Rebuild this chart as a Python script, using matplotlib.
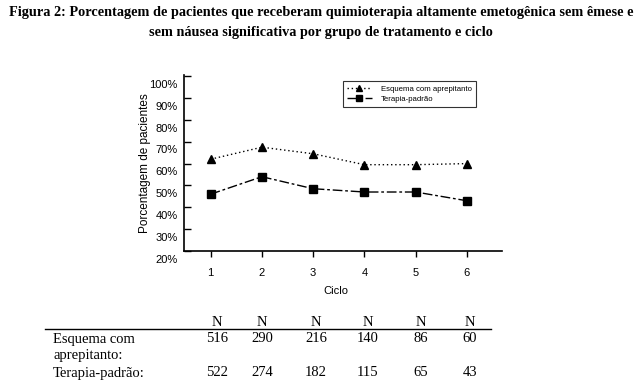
import numpy as np
import matplotlib.pyplot as plt

# Data
ciclos = [1, 2, 3, 4, 5, 6]
aprepitanto = [66.0, 71.5, 68.5, 63.5, 63.5, 64.0]
padrao = [50.0, 58.0, 52.5, 51.0, 51.0, 47.0]
n_aprepitanto = [516, 290, 216, 140, 86, 60]
n_padrao = [522, 274, 182, 115, 65, 43]
y_labels = [20, 30, 40, 50, 60, 70, 80, 90, 100]

SANS = ['Liberation Sans Narrow', 'Liberation Sans', 'DejaVu Sans']
SERIF = ['Liberation Serif', 'DejaVu Serif']

fig = plt.figure(figsize=(6.38, 3.85), dpi=100)

# Title
fig.text(0.503, 0.968, "Figura 2: Porcentagem de pacientes que receberam quimioterapia altamente emetogênica sem êmese e",
         ha='center', va='center', family=SERIF, weight='bold', fontsize=10.3)
fig.text(0.503, 0.915, "sem náusea significativa por grupo de tratamento e ciclo",
         ha='center', va='center', family=SERIF, weight='bold', fontsize=10.3)

ax = fig.add_axes([0.2884, 0.348, 0.498, 0.457])
ax.plot(ciclos, aprepitanto, color='black', lw=1, linestyle=(0, (1, 2)),
        marker='^', markersize=5.5, label='Esquema com aprepitanto')
ax.plot(ciclos, padrao, color='black', lw=1, linestyle=(0, (7, 2, 2, 2)),
        marker='s', markersize=5.5, label='Terapia-padrão')

ax.set_xlim(0.48, 6.68)
ax.set_ylim(24, 104.5)
ax.spines['top'].set_visible(False)
ax.spines['right'].set_visible(False)
for s in ['left', 'bottom']:
    ax.spines[s].set_linewidth(1.2)

# y ticks sit a bit above the printed labels, as in the original
ax.set_yticks([v + 4 for v in y_labels])
ax.set_yticklabels([])
ax.tick_params(axis='y', direction='in', length=5, width=1)
trans = ax.get_yaxis_transform()
for v in y_labels:
    ax.text(-0.02, v, f"{v}%", transform=trans, ha='right', va='center',
            family=SANS, fontsize=8, clip_on=False)

ax.set_xticks(ciclos)
ax.set_xticklabels([str(c) for c in ciclos], family=SANS, fontsize=8)
ax.tick_params(axis='x', direction='out', length=4, width=1, pad=8)

ax.set_xlabel("Ciclo", family=SANS, fontsize=8)
ax.xaxis.set_label_coords(0.478, -0.2)
ax.set_ylabel("Porcentagem de pacientes", family=SANS, fontsize=8.5)
ax.yaxis.set_label_coords(-0.105, 0.5)

leg = ax.legend(loc='upper left', bbox_to_anchor=(0.50, 0.965), prop={'family': SANS, 'size': 5.6},
                frameon=True, fancybox=False, edgecolor='black', handlelength=3.2,
                borderpad=0.5, labelspacing=0.4, handletextpad=1.2, borderaxespad=0)
leg.get_frame().set_linewidth(0.8)
for h in leg.legend_handles:
    h.set_markersize(5)

# Table of N per cycle
col_x = [217, 262, 316, 368, 421, 470]
W, H = 638, 385
for x in col_x:
    fig.text(x / W, 1 - 322.5 / H, "N", ha='center', va='center', family=SERIF, fontsize=10.5)
fig.add_artist(plt.Line2D([45 / W, 491 / W], [1 - 329 / H, 1 - 329 / H], color='black', lw=1))
fig.text(53 / W, 1 - 339 / H, "Esquema com", ha='left', va='center', family=SERIF, fontsize=10.5)
fig.text(53 / W, 1 - 355 / H, "aprepitanto:", ha='left', va='center', family=SERIF, fontsize=10.5)
fig.text(53 / W, 1 - 373 / H, "Terapia-padrão:", ha='left', va='center', family=SERIF, fontsize=10.5)
for x, a, p in zip(col_x, n_aprepitanto, n_padrao):
    fig.text(x / W, 1 - 339 / H, str(a), ha='center', va='center', family=SERIF, fontsize=10.5)
    fig.text(x / W, 1 - 373 / H, str(p), ha='center', va='center', family=SERIF, fontsize=10.5)

fig.savefig("out.png", dpi=100)
